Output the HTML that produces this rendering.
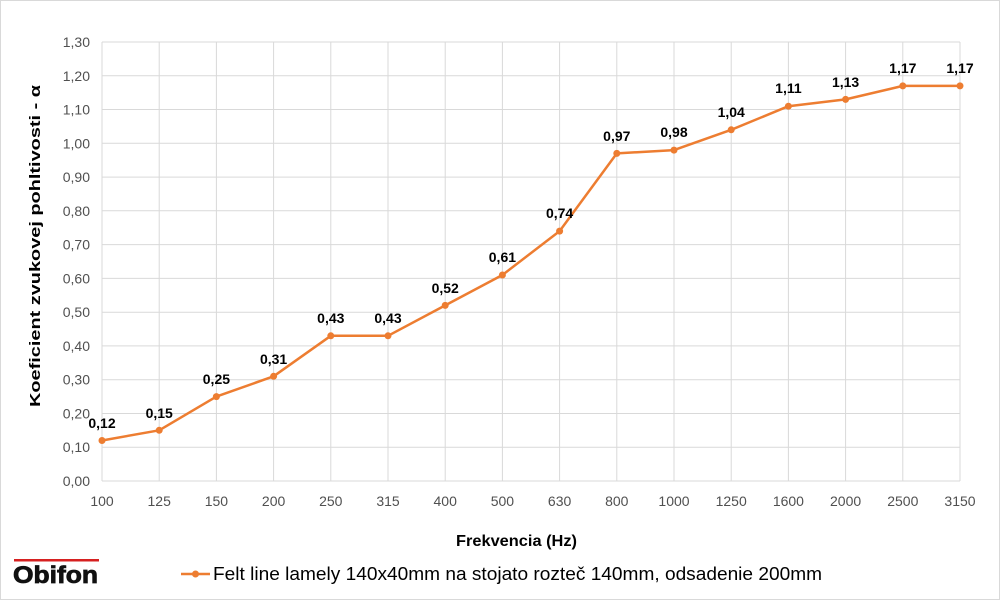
<!DOCTYPE html>
<html><head><meta charset="utf-8"><style>
html,body{margin:0;padding:0;background:#fff;}
svg{display:block;font-family:"Liberation Sans",Arial,sans-serif;}
</style></head><body>
<svg width="1000" height="600" viewBox="0 0 1000 600">
<rect x="0.5" y="0.5" width="999" height="599" fill="#fff" stroke="#d9d9d9"/>
<g stroke="#d9d9d9" stroke-width="1">
<line x1="102" y1="42" x2="960" y2="42"/><line x1="102" y1="75.8" x2="960" y2="75.8"/><line x1="102" y1="109.5" x2="960" y2="109.5"/><line x1="102" y1="143.3" x2="960" y2="143.3"/><line x1="102" y1="177.1" x2="960" y2="177.1"/><line x1="102" y1="210.8" x2="960" y2="210.8"/><line x1="102" y1="244.6" x2="960" y2="244.6"/><line x1="102" y1="278.4" x2="960" y2="278.4"/><line x1="102" y1="312.2" x2="960" y2="312.2"/><line x1="102" y1="345.9" x2="960" y2="345.9"/><line x1="102" y1="379.7" x2="960" y2="379.7"/><line x1="102" y1="413.5" x2="960" y2="413.5"/><line x1="102" y1="447.2" x2="960" y2="447.2"/><line x1="102" y1="481" x2="960" y2="481"/>
<line x1="102" y1="42" x2="102" y2="481"/><line x1="159.2" y1="42" x2="159.2" y2="481"/><line x1="216.4" y1="42" x2="216.4" y2="481"/><line x1="273.6" y1="42" x2="273.6" y2="481"/><line x1="330.8" y1="42" x2="330.8" y2="481"/><line x1="388" y1="42" x2="388" y2="481"/><line x1="445.2" y1="42" x2="445.2" y2="481"/><line x1="502.4" y1="42" x2="502.4" y2="481"/><line x1="559.6" y1="42" x2="559.6" y2="481"/><line x1="616.8" y1="42" x2="616.8" y2="481"/><line x1="674" y1="42" x2="674" y2="481"/><line x1="731.2" y1="42" x2="731.2" y2="481"/><line x1="788.4" y1="42" x2="788.4" y2="481"/><line x1="845.6" y1="42" x2="845.6" y2="481"/><line x1="902.8" y1="42" x2="902.8" y2="481"/><line x1="960" y1="42" x2="960" y2="481"/>
</g>
<g fill="#505050" font-size="14" text-anchor="end">
<text x="90" y="47">1,30</text><text x="90" y="80.8">1,20</text><text x="90" y="114.5">1,10</text><text x="90" y="148.3">1,00</text><text x="90" y="182.1">0,90</text><text x="90" y="215.8">0,80</text><text x="90" y="249.6">0,70</text><text x="90" y="283.4">0,60</text><text x="90" y="317.2">0,50</text><text x="90" y="350.9">0,40</text><text x="90" y="384.7">0,30</text><text x="90" y="418.5">0,20</text><text x="90" y="452.2">0,10</text><text x="90" y="486">0,00</text>
</g>
<g fill="#505050" font-size="14" text-anchor="middle">
<text x="102" y="506">100</text><text x="159.2" y="506">125</text><text x="216.4" y="506">150</text><text x="273.6" y="506">200</text><text x="330.8" y="506">250</text><text x="388" y="506">315</text><text x="445.2" y="506">400</text><text x="502.4" y="506">500</text><text x="559.6" y="506">630</text><text x="616.8" y="506">800</text><text x="674" y="506">1000</text><text x="731.2" y="506">1250</text><text x="788.4" y="506">1600</text><text x="845.6" y="506">2000</text><text x="902.8" y="506">2500</text><text x="960" y="506">3150</text>
</g>
<text x="456" y="546" font-size="16" font-weight="bold" fill="#000" textLength="121" lengthAdjust="spacingAndGlyphs">Frekvencia (Hz)</text>
<text transform="translate(40,246) rotate(-90)" font-size="15" font-weight="bold" text-anchor="middle" fill="#000" textLength="322" lengthAdjust="spacingAndGlyphs">Koeficient zvukovej pohltivosti  - α</text>
<polyline fill="none" stroke="#ED7D31" stroke-width="2.5" stroke-linejoin="round" points="102,440.5 159.2,430.3 216.4,396.6 273.6,376.3 330.8,335.8 388,335.8 445.2,305.4 502.4,275 559.6,231.1 616.8,153.4 674,150.1 731.2,129.8 788.4,106.2 845.6,99.4 902.8,85.9 960,85.9"/>
<g fill="#ED7D31">
<circle cx="102" cy="440.5" r="3.5"/><circle cx="159.2" cy="430.3" r="3.5"/><circle cx="216.4" cy="396.6" r="3.5"/><circle cx="273.6" cy="376.3" r="3.5"/><circle cx="330.8" cy="335.8" r="3.5"/><circle cx="388" cy="335.8" r="3.5"/><circle cx="445.2" cy="305.4" r="3.5"/><circle cx="502.4" cy="275" r="3.5"/><circle cx="559.6" cy="231.1" r="3.5"/><circle cx="616.8" cy="153.4" r="3.5"/><circle cx="674" cy="150.1" r="3.5"/><circle cx="731.2" cy="129.8" r="3.5"/><circle cx="788.4" cy="106.2" r="3.5"/><circle cx="845.6" cy="99.4" r="3.5"/><circle cx="902.8" cy="85.9" r="3.5"/><circle cx="960" cy="85.9" r="3.5"/>
</g>
<g fill="#000" font-size="14" font-weight="bold" text-anchor="middle">
<text x="102" y="428">0,12</text><text x="159.2" y="418">0,15</text><text x="216.4" y="384">0,25</text><text x="273.6" y="364">0,31</text><text x="330.8" y="323">0,43</text><text x="388" y="323">0,43</text><text x="445.2" y="293">0,52</text><text x="502.4" y="262">0,61</text><text x="559.6" y="218">0,74</text><text x="616.8" y="141">0,97</text><text x="674" y="137">0,98</text><text x="731.2" y="117">1,04</text><text x="788.4" y="93">1,11</text><text x="845.6" y="87">1,13</text><text x="902.8" y="73">1,17</text><text x="960" y="73">1,17</text>
</g>
<line x1="181" y1="574" x2="210" y2="574" stroke="#ED7D31" stroke-width="2.5"/>
<circle cx="195.5" cy="574" r="3.5" fill="#ED7D31"/>
<text x="213" y="580" font-size="18" fill="#000" textLength="609" lengthAdjust="spacingAndGlyphs">Felt line lamely 140x40mm na stojato rozteč 140mm, odsadenie 200mm</text>
<rect x="14" y="559" width="85" height="2.5" fill="#d62020"/>
<text x="13" y="583" font-size="24" font-weight="bold" fill="#111" stroke="#111" stroke-width="0.8" textLength="85" lengthAdjust="spacingAndGlyphs">Obifon</text>
</svg>
</body></html>
